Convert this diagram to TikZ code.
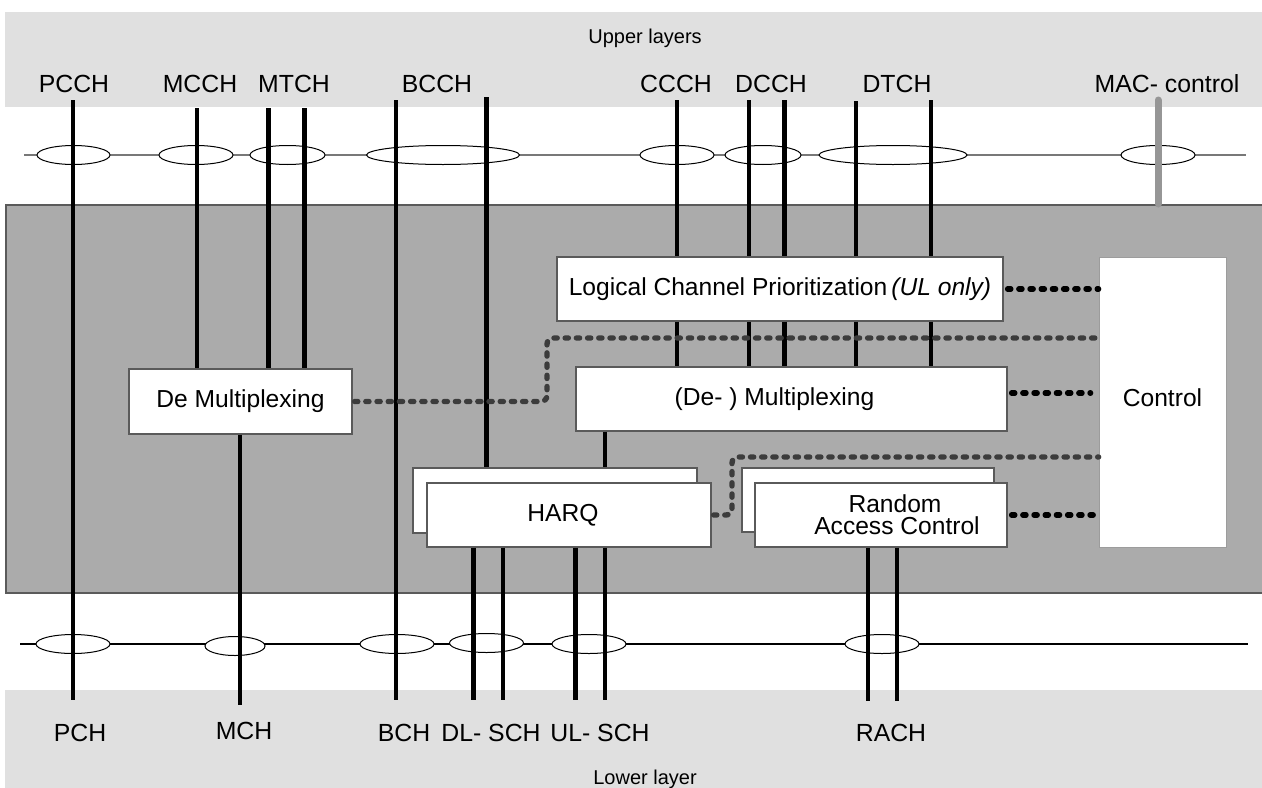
\documentclass[tikz,border=0pt]{standalone}
\usepackage{fontspec}
\setmainfont{Liberation Sans}
\usetikzlibrary{shapes.geometric}

\definecolor{layergray}{RGB}{224,224,224}
\definecolor{macgray}{RGB}{171,171,171}
\definecolor{edgegray}{RGB}{90,90,90}
\definecolor{dotgray}{RGB}{60,60,60}
\definecolor{ctrlgray}{RGB}{150,150,150}
\definecolor{wiregray}{RGB}{120,120,120}

\begin{document}
\begin{tikzpicture}[x=0.5pt,y=-0.5pt,
    chan/.style={line width=2.2pt},
    ring/.style={ellipse,draw,fill=white,line width=0.5pt,inner sep=0pt,minimum height=9.5pt},
    chlabel/.style={inner sep=0pt,font=\fontsize{12.4}{14}\selectfont},
    layerlabel/.style={inner sep=0pt,anchor=base,font=\fontsize{10}{12}\selectfont},
    block/.style={draw=edgegray,fill=white,line width=0.6pt,inner sep=0pt,align=center,font=\fontsize{12.3}{11}\selectfont},
    ctrlline/.style={line width=2.7pt,line cap=round,dash pattern=on 1.6pt off 4pt}]
  \useasboundingbox (0,0) rectangle (1262,787);

  % Layer bands and the MAC area
  \fill[layergray] (5,12) rectangle (1266,107);
  \fill[layergray] (5,690) rectangle (1266,790);
  \draw[edgegray,fill=macgray,line width=0.7pt] (6,205) rectangle (1268,593);
  \node[layerlabel] (upper) at (645,43) {Upper layers};
  \node[layerlabel] (lower) at (645,784) {Lower layer};

  % Logical channels (top row)
  \node[chlabel] (PCCH) at (74,84)   {PCCH};
  \node[chlabel] (MCCH) at (200,84)  {MCCH};
  \node[chlabel] (MTCH) at (294,84)  {MTCH};
  \node[chlabel] (BCCH) at (437,84)  {BCCH};
  \node[chlabel] (CCCH) at (676,84)  {CCCH};
  \node[chlabel] (DCCH) at (771,84)  {DCCH};
  \node[chlabel] (DTCH) at (897,84)  {DTCH};
  \node[chlabel] (MAC)  at (1167,84) {MAC- control};

  % Transport channels (bottom row)
  \node[chlabel] (PCH)   at (80,733)  {PCH};
  \node[chlabel] (MCH)   at (244,731) {MCH};
  \node[chlabel] (BCH)   at (404,733) {BCH};
  \node[chlabel] (DLSCH) at (491,733) {DL- SCH};
  \node[chlabel] (ULSCH) at (600,733) {UL- SCH};
  \node[chlabel] (RACH)  at (891,733) {RACH};

  % Service access point lines
  \coordinate (topL) at (24,155);
  \coordinate (topR) at (1246,155);
  \coordinate (botL) at (20,644);
  \coordinate (botR) at (1248,644);
  \draw[wiregray,line width=1pt] (topL) -- (topR);
  \draw[line width=0.6pt] (botL) -- (botR);

  % SAP rings, top
  \node[ring,minimum width=36.5pt] (PCCHr) at (73.5,155) {};
  \node[ring,minimum width=37pt]   (MCCHr) at (196,155)  {};
  \node[ring,minimum width=37.5pt] (MTCHr) at (287.5,155) {};
  \node[ring,minimum width=76.5pt] (BCCHr) at (443,155)  {};
  \node[ring,minimum width=37pt]   (CCCHr) at (677,155)  {};
  \node[ring,minimum width=38pt]   (DCCHr) at (763,155)  {};
  \node[ring,minimum width=74pt]   (DTCHr) at (893,155)  {};
  \node[ring,minimum width=37pt]   (MACr)  at (1158,155) {};

  % SAP rings, bottom
  \node[ring,minimum width=37pt] (PCHr)   at (73,644)    {};
  \node[ring,minimum width=30pt] (MCHr)   at (235,646)   {};
  \node[ring,minimum width=37pt] (BCHr)   at (397,644)   {};
  \node[ring,minimum width=37pt] (DLSCHr) at (486.5,643) {};
  \node[ring,minimum width=37pt] (ULSCHr) at (589,644)   {};
  \node[ring,minimum width=37pt] (RACHr)  at (882,644)   {};

  % MAC entities
  \node[block,minimum width=111.5pt,minimum height=32.5pt] (demux) at (240.5,401.5) {De Multiplexing};
  \node[block,minimum width=223pt,minimum height=32pt] (lcp) at (780,289)
       {Logical Channel Prioritization\hspace{2pt}\textit{(UL only)}};
  \node[block,minimum width=215.5pt,minimum height=32pt] (mux) at (791.5,399)
       {(De- ) Multiplexing\hspace*{17pt}};
  \node[block,minimum width=142pt,minimum height=32.5pt] (harqBack) at (555,500.5) {};
  \node[block,minimum width=142pt,minimum height=32pt] (harq) at (569,515) {HARQ\hspace*{6pt}};
  \node[block,minimum width=126pt,minimum height=32pt] (racBack) at (868,500) {};
  \node[block,minimum width=126pt,minimum height=32pt] (rac) at (881,515)
       {\hspace*{14pt}Random\\\hspace*{16pt}Access Control};
  \node[block,draw=edgegray!60,line width=0.4pt,minimum width=63.5pt,minimum height=145pt] (ctrl)
       at (1162.5,402) {\raisebox{4pt}{Control}};

  % Channel line ends
  \coordinate (floor)  at (0,700);
  \coordinate (PCCHt)  at (73,100);
  \coordinate (MCCHt)  at (197,108);
  \coordinate (MTCHat) at (268.5,108);
  \coordinate (MTCHbt) at (304.5,108);
  \coordinate (BCCHat) at (396,100);
  \coordinate (BCCHbt) at (486.5,97);
  \coordinate (CCCHt)  at (677,100);
  \coordinate (DCCHat) at (749,100);
  \coordinate (DCCHbt) at (784.5,100);
  \coordinate (DTCHat) at (856,101);
  \coordinate (DTCHbt) at (931,100);
  \coordinate (MACt)   at (1158,100);
  \coordinate (MACb)   at (1158,204);
  \coordinate (MCHb)   at (240,705);
  \coordinate (DLSCHa) at (473.5,700);
  \coordinate (DLSCHb) at (503,700);
  \coordinate (ULSCHa) at (575.5,700);
  \coordinate (ULSCHb) at (605,700);
  \coordinate (RACHa)  at (868,701);
  \coordinate (RACHb)  at (897,701);

  % Channels passing straight through
  \draw[chan] (PCCHt) -- (PCCHt |- floor);
  \draw[chan] (BCCHat) -- (BCCHat |- floor);

  % Channels into De Multiplexing and HARQ
  \draw[chan] (MCCHt) -- (MCCHt |- demux.north);
  \draw[chan] (MTCHat) -- (MTCHat |- demux.north);
  \draw[chan] (MTCHbt) -- (MTCHbt |- demux.north);
  \draw[chan] (BCCHbt) -- (BCCHbt |- harqBack.north);
  \draw[chan] (MCHb |- demux.south) -- (MCHb);

  % Channels under the prioritization box, into (De-) Multiplexing
  \foreach \c in {CCCHt,DCCHat,DCCHbt,DTCHat,DTCHbt} {
    \draw[chan] (\c) -- (\c |- lcp.north);
    \draw[chan] (\c |- lcp.south) -- (\c |- mux.north);
  }

  % Transport channels below HARQ and RACH
  \draw[chan] (ULSCHb |- mux.south) -- (ULSCHb |- harqBack.north);
  \draw[chan] (DLSCHa |- harq.south) -- (DLSCHa);
  \draw[chan] (DLSCHb |- harq.south) -- (DLSCHb);
  \draw[chan] (ULSCHa |- harq.south) -- (ULSCHa);
  \draw[chan] (ULSCHb |- harq.south) -- (ULSCHb);
  \draw[chan] (RACHa |- rac.south) -- (RACHa);
  \draw[chan] (RACHb |- rac.south) -- (RACHb);

  % MAC control
  \draw[ctrlgray,line width=3.5pt,line cap=round] (MACt) -- (MACb);

  % Control links
  \coordinate (demuxBend) at (547,338);
  \coordinate (harqBend)  at (732,457);
  \coordinate (muxTap)    at ([yshift=3pt]mux.east);
  \draw[ctrlline,dotgray,rounded corners=3pt] ([xshift=1pt]demux.east) -| (demuxBend) -- (demuxBend -| ctrl.west);
  \draw[ctrlline,dotgray,rounded corners=3pt] ([xshift=1pt]harq.east) -| (harqBend) -- (harqBend -| ctrl.west);
  \draw[ctrlline,shorten <=2pt] (lcp.east) -- (lcp.east -| ctrl.west);
  \draw[ctrlline,shorten <=2pt,shorten >=4pt] (muxTap) -- (muxTap -| ctrl.west);
  \draw[ctrlline,shorten <=2pt] (rac.east) -- (rac.east -| ctrl.west);
\end{tikzpicture}
\end{document}
